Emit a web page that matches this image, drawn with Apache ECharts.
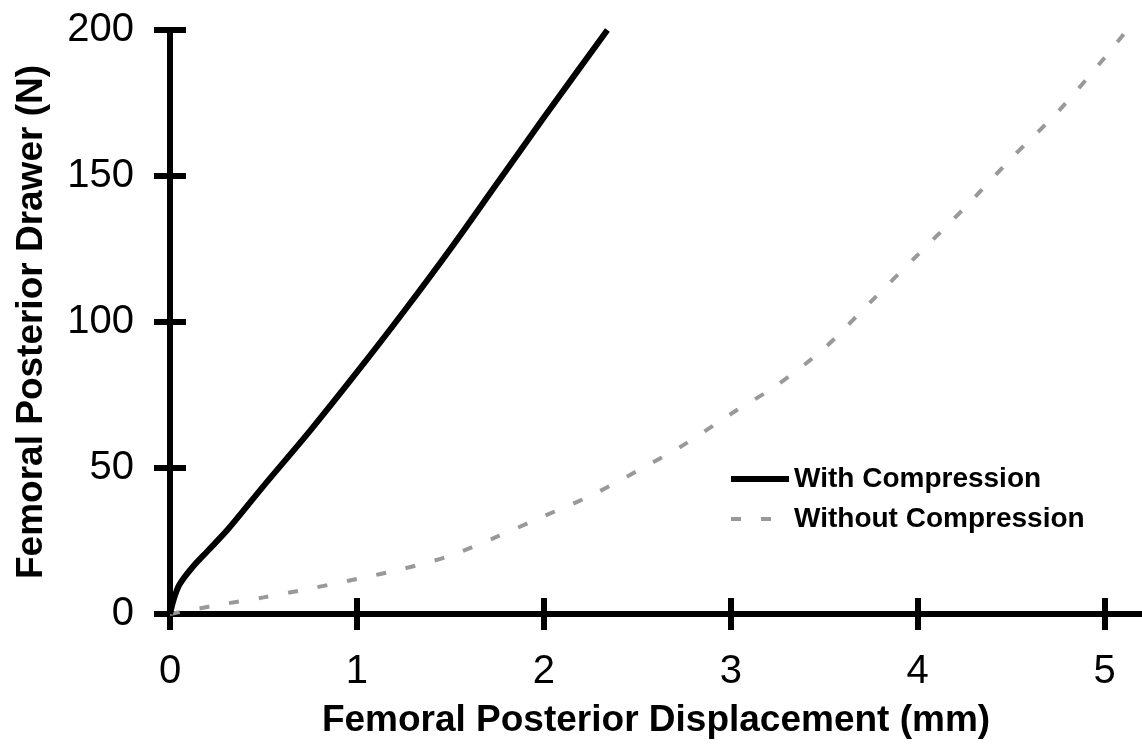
<!DOCTYPE html>
<html>
<head>
<meta charset="utf-8">
<script src="https://cdn.jsdelivr.net/npm/echarts@6/dist/echarts.min.js"></script>
<style>html,body{margin:0;padding:0;background:#fff}#c{width:1142px;height:746px}</style>
</head>
<body>
<div id="c"></div>
<script>
// Data
const withCompression = [
  [0,0],[0.02,5],[0.05,10],[0.12,16],[0.2,21.5],[0.31,29],[0.5,43.8],[0.75,62.8],
  [1,82.8],[1.25,103.5],[1.5,125],[1.75,147.5],[2,170],[2.34,200]
];
const withoutCompression = [
  [0,0],[0.25,3],[0.5,5.7],[0.75,8.7],[1,12],[1.25,15.5],[1.5,20],[1.75,26.5],
  [2,33.5],[2.25,40.5],[2.5,49],[2.75,58],[3,68.5],[3.25,78.5],[3.5,91],
  [3.75,107],[4,123],[4.25,139],[4.5,156],[4.75,172],[5,190.5],[5.12,200]
];
const seriesNames = ['With Compression', 'Without Compression'];
const xTicks = [0,1,2,3,4,5];
const yTicks = [0,50,100,150,200];
const xTitle = 'Femoral Posterior Displacement (mm)';
const yTitle = 'Femoral Posterior Drawer (N)';

const FONT = '"Liberation Sans", Arial, sans-serif';
const chart = echarts.init(document.getElementById('c'), null, {renderer:'canvas'});
const axisLine = {show:true, onZero:false, lineStyle:{color:'#000', width:6}};
chart.setOption({
  backgroundColor:'#fff',
  animation:false,
  grid:{left:170, right:0, top:30, bottom:132, containLabel:false, outerBoundsMode:'none'},
  legend:{
    orient:'vertical', left:723, top:459, itemWidth:58, itemHeight:20, itemGap:10,
    data:[
      {name:seriesNames[0], lineStyle:{width:6, color:'#000'}},
      {name:seriesNames[1], lineStyle:{width:4, color:'#999', type:[10,20]}}
    ],
    itemStyle:{opacity:0},
    textStyle:{fontFamily:FONT, fontWeight:'bold', fontSize:28, color:'#000', lineHeight:30}
  },
  xAxis:[{
    type:'value', min:0, max:5.2, interval:1, position:'bottom',
    name:xTitle, nameLocation:'middle', nameGap:88,
    nameTextStyle:{fontFamily:FONT, fontWeight:'bold', fontSize:37, color:'#000'},
    axisLine:axisLine,
    axisTick:{show:true, inside:false, length:16, lineStyle:{color:'#000', width:6}, customValues:xTicks},
    axisLabel:{fontFamily:FONT, fontSize:40, color:'#000', margin:38, customValues:xTicks},
    splitLine:{show:false}
  },{
    type:'value', min:0, max:5.2, interval:1, position:'bottom',
    axisLine:{show:false},
    axisTick:{show:true, inside:true, length:16, lineStyle:{color:'#000', width:6}, customValues:xTicks},
    axisLabel:{show:false}, splitLine:{show:false}
  }],
  yAxis:[{
    type:'value', min:0, max:200, interval:50, position:'left',
    name:yTitle, nameLocation:'middle', nameGap:120, nameRotate:90,
    nameTextStyle:{fontFamily:FONT, fontWeight:'bold', fontSize:37, color:'#000'},
    axisLine:axisLine,
    axisTick:{show:true, inside:false, length:16, lineStyle:{color:'#000', width:6}, customValues:yTicks},
    axisLabel:{fontFamily:FONT, fontSize:40, color:'#000', margin:36, customValues:yTicks},
    splitLine:{show:false}
  },{
    type:'value', min:0, max:200, interval:50, position:'left',
    axisLine:{show:false},
    axisTick:{show:true, inside:true, length:16, lineStyle:{color:'#000', width:6}, customValues:yTicks},
    axisLabel:{show:false}, splitLine:{show:false}
  }],
  series:[{
    name:seriesNames[0], type:'line', xAxisIndex:0, yAxisIndex:0,
    data:withCompression, smooth:0.3, showSymbol:false, symbol:'none',
    lineStyle:{color:'#000', width:6}, itemStyle:{color:'#000'}, z:3
  },{
    name:seriesNames[1], type:'line', xAxisIndex:0, yAxisIndex:0,
    data:withoutCompression, smooth:0.3, showSymbol:false, symbol:'none',
    lineStyle:{color:'#999', width:4, type:[10,20]}, itemStyle:{color:'#999'}, z:2
  }]
});
</script>
</body>
</html>
